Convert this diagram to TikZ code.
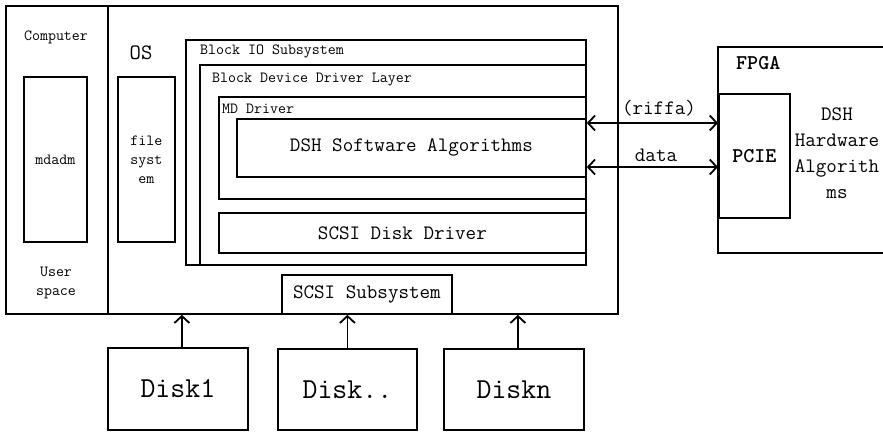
\documentclass[tikz,border=0pt]{standalone}
\usetikzlibrary{arrows.meta}
\begin{document}
\begin{tikzpicture}[x=1pt,y=-1pt,
  box/.style={draw, line width=1.8pt, inner sep=0pt, anchor=north west, align=center},
  sm/.style={font=\ttfamily\fontsize{15.5}{19}\selectfont},
  md/.style={font=\ttfamily\fontsize{20.5}{26}\selectfont},
  lg/.style={font=\ttfamily\fontsize{29}{34}\selectfont},
  bd/.style={font=\ttfamily\bfseries\fontsize{21}{26}\selectfont},
  lbl/.style={inner sep=0pt},
  arr/.style={-{Straight Barb[length=7pt,width=15pt]}, line width=1.8pt},
  darr/.style={{Straight Barb[length=7pt,width=15pt]}-{Straight Barb[length=7pt,width=15pt]}, line width=1.8pt}]
\useasboundingbox (0,0) rectangle (883,431);
% computer / OS
\node[box, minimum width=102, minimum height=308] (comp) at (5,5) {};
\node[box, minimum width=510, minimum height=308] (os) at (107,5) {};
\node[lbl, sm] (comptxt) at (56,37) {Computer};
\node[box, sm, minimum width=63, minimum height=165] (mdadm) at (23,76) {mdadm};
\node[lbl, sm, align=center] (user) at (56,283) {User\\space};
\node[lbl, font=\ttfamily\fontsize{22}{26}\selectfont] (ostxt) at (141,53) {OS};
\node[box, sm, minimum width=57, minimum height=165] (fs) at (117,76) {file\\syst\\em};
% block layers
\node[box, minimum width=400, minimum height=225] (bio) at (185,39) {};
\node[lbl, sm, anchor=west] (biotxt) at (200,51) {Block IO Subsystem};
\node[box, minimum width=386, minimum height=200] (bdd) at (199,64) {};
\node[lbl, sm, anchor=west] (bddtxt) at (212,80) {Block Device Driver Layer};
\node[box, minimum width=367, minimum height=102] (mdd) at (218,96) {};
\node[lbl, sm, anchor=west] (mddtxt) at (222,109) {MD Driver};
\node[box, md, minimum width=349, minimum height=58] (dshsw) at (236,118) {DSH Software Algorithms};
\node[box, md, minimum width=367, minimum height=40] (scsidd) at (218,212) {SCSI Disk Driver};
\node[box, md, minimum width=170, minimum height=39] (scsis) at (281,274) {SCSI Subsystem};
% disks
\node[box, lg, minimum width=140, minimum height=82] (d1) at (107,347) {Disk1};
\node[box, lg, minimum width=139, minimum height=81] (d2) at (277,348) {Disk..};
\node[box, lg, minimum width=140, minimum height=81] (dn) at (443,348) {Diskn};
\draw[arr] ([xshift=4]d1.north) -- ([xshift=4]d1.north |- os.south);
\draw[arr] (d2.north) -- (d2.north |- os.south);
\draw[arr] ([xshift=4]dn.north) -- ([xshift=4]dn.north |- os.south);
% FPGA
\coordinate (ftr) at (883,47);
\coordinate (fbr) at (883,253);
\draw[line width=1.8pt] (ftr) -- (718,47) -- (718,253) -- (fbr);
\node[lbl, bd, anchor=west] (fpgatxt) at (736,63) {FPGA};
\node[box, bd, minimum width=71, minimum height=124] (pcie) at (718,93) {PCIE};
\node[lbl, md, align=center] (dshhw) at (837,153) {DSH\\Hardware\\Algorith\\ms};
% links
\draw[darr] (dshsw.east |- 0,123) -- (pcie.west |- 0,123);
\draw[darr] (dshsw.east |- 0,167) -- (pcie.west |- 0,167);
\node[lbl, md] (riffa) at (659,108) {(riffa)};
\node[lbl, md] (data) at (656,155) {data};
\end{tikzpicture}
\end{document}
